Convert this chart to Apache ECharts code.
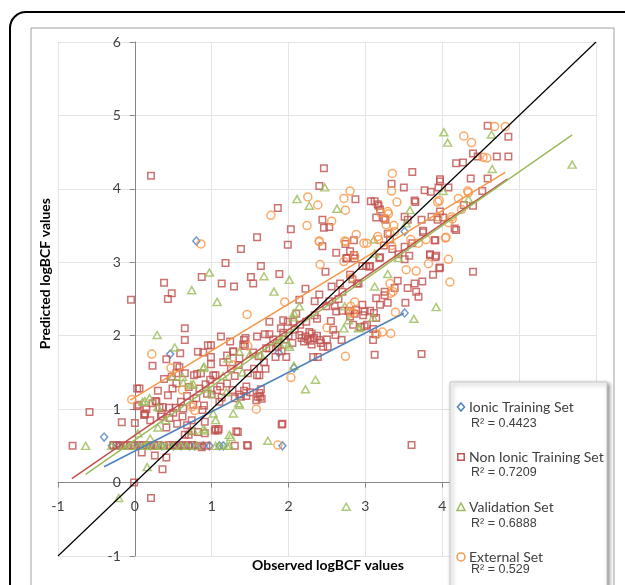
<!DOCTYPE html>
<html>
<head>
<meta charset="utf-8">
<script src="https://cdn.jsdelivr.net/npm/echarts@6/dist/echarts.min.js"></script>
<style>
html,body{margin:0;padding:0;background:#fff;}
#chart{width:625px;height:585px;}
</style>
</head>
<body>
<div id="chart"></div>
<script>
// ---- data ----
const seriesNames = ['Ionic Training Set', 'Non Ionic Training Set', 'Validation Set', 'External Set'];
const r2Labels = ['R\u00b2 = 0.4423', 'R\u00b2 = 0.7209', 'R\u00b2 = 0.6888', 'R\u00b2 = 0.529'];
const seriesColors = ['#4F81BD', '#C0504D', '#9BBB59', '#F79646'];

const ionicData = [
  [-0.40,0.62],[-0.30,0.50],[-0.20,0.50],[0.05,0.50],[0.20,0.50],[0.35,0.50],[0.50,0.50],[0.60,0.50],
  [0.71,0.50],[0.78,0.50],[0.89,0.50],[0.97,0.50],[1.10,0.50],[1.15,0.50],[1.92,0.50],[0.46,1.75],
  [0.80,3.29],[1.87,1.77],[2.07,1.56],[3.51,3.42],[3.51,2.31]
];

const nonIonicData = [
  [0.21,4.18],[2.46,4.28],[2.40,4.04],[1.86,3.74],[2.44,3.58],[2.46,3.47],[2.53,3.48],[2.87,3.86],[3.07,3.83],[3.12,3.83],
  [3.14,3.61],[3.17,3.77],[3.26,3.58],[3.34,4.07],[3.50,4.02],[3.61,4.23],[3.65,3.82],[3.77,3.98],[3.85,3.96],[3.97,4.13],
  [3.97,4.10],[3.95,4.02],[4.08,4.02],[4.18,4.35],[4.27,4.36],[4.40,4.48],[4.46,4.44],[4.37,4.14],[4.59,4.14],[4.59,4.86],
  [4.71,4.44],[4.86,4.44],[4.86,4.71],[4.52,3.97],[4.28,3.78],[4.40,3.77],[3.64,3.84],[3.16,3.79],[3.19,3.72],[3.24,3.60],
  [3.51,3.62],[3.55,3.58],[3.73,3.58],[3.86,3.62],[3.94,3.58],[4.01,3.61],[3.97,3.69],[4.16,3.46],[4.18,3.44],[3.75,3.43],
  [3.91,3.30],[3.29,3.39],[3.51,3.21],
  [2.03,3.45],[1.99,3.24],[1.59,3.34],[1.38,3.18],[1.18,2.99],[1.13,2.71],[1.29,2.67],[0.38,2.72],[0.43,2.50],[0.48,2.58],
  [-0.05,2.49],[0.87,2.80],[1.51,2.80],[1.54,2.71],[1.64,2.95],[1.88,2.84],[2.22,2.64],[2.44,3.22],[2.62,3.13],[2.75,3.05],
  [2.86,3.05],[3.01,2.95],[3.06,2.95],[2.48,2.87],[2.80,2.83],[2.83,2.77],[2.89,2.71],[2.67,2.71],[2.56,2.67],[2.40,2.56],
  [2.14,2.49],[2.34,2.47],[2.53,2.47],[2.49,2.40],[2.60,2.40],[2.62,2.33],[2.70,2.34],[2.78,2.34],[2.86,2.30],[2.99,2.33],
  [3.06,2.34],[3.11,2.31],[3.14,2.24],[2.80,2.26],[2.84,2.15],[2.99,2.13],[3.12,1.74],[3.73,1.75],[3.60,0.51],
  [3.57,3.09],[3.84,3.11],[3.92,3.09],[3.19,3.07],[3.51,3.04],[3.97,2.93],[3.88,2.83],[4.40,2.87],[3.42,2.75],[3.64,2.71],
  [3.74,2.74],[3.66,2.60],[3.55,2.65],[3.69,2.53],[3.38,2.65],[3.25,2.60],[3.25,2.55],[3.29,2.45],[3.19,2.42],[3.52,2.45],
  [3.24,3.23],[3.32,3.31],[3.35,3.18],[3.43,3.11],[3.61,3.26],[3.84,3.10],[3.91,3.07],[3.75,3.41],[3.90,3.30],[3.96,2.92],
  [3.05,2.94],[3.18,3.06],[2.74,3.25],[2.80,3.15],[2.85,3.30],[2.76,3.06],[2.85,3.10],[2.91,2.71],[2.96,2.95],[2.97,2.28],
  [3.02,2.15],[2.94,2.12],[2.96,2.42],[2.88,2.35],[3.14,2.51],
  [2.34,2.28],[2.23,2.19],[2.37,2.23],[1.75,2.19],[1.93,2.21],[1.99,2.19],[2.06,2.19],[1.90,2.10],[1.93,2.04],[2.08,2.08],
  [2.14,2.01],[2.22,1.99],[2.27,2.05],[2.25,1.95],[2.30,2.03],[2.33,1.97],[2.37,2.00],[2.40,1.94],[2.42,1.90],[2.45,1.85],
  [2.30,1.88],[2.28,1.93],[2.20,1.92],[2.17,1.97],[2.58,2.08],[2.61,2.01],[2.69,1.94],[2.51,1.85],[2.38,1.71],[2.32,1.71],
  [1.59,1.99],[1.69,2.02],[1.42,1.94],[1.12,1.99],[1.28,1.78],[1.43,1.86],[1.36,1.69],[1.54,1.77],[1.61,1.72],[1.75,1.83],
  [1.86,1.85],[1.91,1.79],[1.97,1.71],[1.83,1.71],[3.10,2.09],[3.13,2.02],[3.10,1.94],
  [0.65,2.10],[0.65,1.94],[0.95,1.87],[0.99,1.87],[0.82,1.78],[0.89,1.77],[0.59,1.76],[0.41,1.68],[0.23,1.59],[0.55,1.59],
  [0.99,1.71],[-0.59,0.96],[-0.81,0.50],[-0.17,0.82],[0.00,0.81],[0.03,1.28],[0.03,1.04],[0.12,0.92],[0.13,0.94],[0.26,0.37],
  [0.36,0.18],[0.41,0.34],[-0.01,0.00],[0.21,-0.21],[0.09,0.41],
  [0.23,1.08],[0.28,1.10],[0.36,1.03],[0.43,1.19],[0.49,1.28],[0.54,1.35],[0.34,0.90],[0.65,1.49],[0.77,1.46],[0.86,1.49],
  [1.02,1.46],[0.91,0.67],[1.04,0.71],[0.82,0.69],[0.65,0.65],[0.70,0.65],
  [1.62,1.46],[1.58,1.12],[1.60,1.17],[1.62,1.22],[1.64,1.27],[1.30,1.15],[1.36,1.20],[1.42,1.25],[1.45,1.18],[1.92,0.80],
  [1.34,0.69],[1.08,0.71],[1.30,0.50],[1.47,0.50],
  [0.06,1.28],[0.05,1.06],[0.58,1.57],[0.54,1.49],[0.48,1.44],[0.38,1.41],[0.81,1.48],[0.84,1.28],[0.92,1.34],[0.98,1.40],
  [1.05,1.46],[0.99,1.61],[1.07,1.26],[1.11,1.31],[1.13,1.16],[1.27,1.26],[1.15,1.64],[1.20,1.73],[1.24,1.92],[1.28,1.79],
  [1.41,1.88],[1.44,1.97],[1.47,1.49],[1.45,1.31],[1.38,1.17],[1.50,1.23],[1.59,1.46],[1.63,1.17],[1.65,1.14],[1.68,1.64],
  [1.71,1.83],[1.75,2.02],[0.94,1.21],[0.88,0.99],[0.91,0.83],[1.05,0.73],[1.09,0.73],[1.32,0.70],[1.91,0.79],[1.46,0.51],
  [0.63,1.01],[0.53,1.02],[0.45,1.02],[0.32,1.02],[0.27,1.11],[0.35,0.93],[0.41,0.75],[0.55,0.80],[0.68,0.78],[0.74,0.70],
  [0.68,1.18],[0.76,1.06],[0.74,0.85],[0.13,0.93],
  [-0.28,0.51],[-0.24,0.50],[-0.20,0.51],[-0.15,0.50],[-0.10,0.51],[-0.05,0.50],[0.00,0.51],[0.07,0.50],[0.10,0.51],
  [0.15,0.50],[0.20,0.51],[0.25,0.50],[0.30,0.51],[0.38,0.50],[0.45,0.51],[0.50,0.50],[0.55,0.51],[0.60,0.50],
  [0.65,0.51],[0.70,0.50],[0.75,0.51],[0.82,0.50],[0.87,0.48],[0.93,0.50],
  [0.60,1.10],[0.70,1.30],[0.80,1.15],[0.90,1.05],[1.00,1.20],[1.10,1.10],[1.20,1.35],[1.25,1.55],[1.30,1.45],[1.35,1.60],
  [0.50,0.95],[0.45,0.88],[0.62,0.90],[0.30,1.25],[0.20,0.85],[0.15,1.00],[1.55,1.55],[1.70,1.55],[1.80,1.95],[1.85,1.90],
  [1.95,1.95],[2.00,2.00],[2.05,1.90],[2.10,2.30],[2.15,2.15],[2.50,1.95],[2.55,2.20],[2.65,2.50],[2.70,2.60]
];

const validationData = [
  [-0.64,0.50],[-0.21,-0.21],[0.16,0.21],[0.04,0.67],[0.19,1.15],[0.13,1.11],[0.76,0.71],[0.91,0.71],[1.02,0.94],[0.29,2.01],
  [0.52,1.84],[0.62,1.44],[0.76,1.34],[0.89,1.56],[0.97,2.86],[0.74,2.62],[1.07,2.46],[0.90,1.58],[0.94,1.28],[0.99,1.21],
  [1.19,1.23],[1.28,0.94],[1.36,1.06],[1.23,0.65],[1.05,0.85],[0.89,0.73],[1.73,0.57],[1.25,0.62],[1.35,1.08],
  [1.68,2.81],[2.01,2.76],[1.81,2.60],[2.14,2.40],[2.07,2.31],[2.06,2.25],[2.73,2.40],[2.78,2.21],[2.72,2.10],[2.92,2.11],
  [3.10,2.25],[3.12,2.67],[1.88,1.90],[2.01,1.85],[1.64,1.74],[1.36,1.78],[1.21,1.69],[2.07,1.59],[3.12,3.12],[2.35,1.40],
  [2.22,1.27],[2.75,-0.33],
  [4.02,4.77],[4.07,4.63],[4.64,4.74],[4.65,4.27],[4.01,3.97],[4.34,3.86],[3.58,3.71],[3.53,3.53],[3.29,2.84],[3.92,2.39],
  [3.63,2.23],[2.47,4.02],[2.11,3.86],[2.27,3.77],[2.63,3.73],[5.69,4.33],[3.11,3.31],[3.43,3.06],[2.91,2.10],
  [-0.30,0.50],[-0.15,0.50],[-0.05,0.50],[0.05,0.50],[0.12,0.50],[0.15,0.50],[0.25,0.50],[0.32,0.50],[0.35,0.50],
  [0.42,0.50],[0.50,0.50],[0.60,0.50],[0.68,0.50],[0.80,0.50],[1.05,0.50],[1.10,0.50],[1.20,0.50],[1.23,0.50],
  [0.49,1.44],[0.63,1.36],[0.73,1.33],[0.30,1.03],[0.10,1.10],[0.20,0.60],[0.30,0.75],[0.40,0.85],[1.15,1.45],
  [1.40,1.50],[1.50,1.75],[1.90,1.95],[2.00,1.88]
];

const externalData = [
  [-0.04,1.13],[0.22,1.75],[0.47,1.56],[0.62,1.26],[0.74,1.03],[0.78,0.98],[1.46,2.29],[1.58,1.00],[1.47,1.86],[1.86,0.51],
  [2.03,1.43],[1.95,2.46],[1.77,3.64],[2.25,3.89],[2.38,3.78],[2.24,3.50],[2.56,3.56],[2.72,3.87],[2.80,3.97],[2.74,3.71],
  [2.40,3.29],[2.73,3.29],[2.88,3.38],[2.41,2.97],[2.86,3.09],[2.72,3.01],[2.82,2.79],[2.81,2.40],[2.81,2.32],[2.50,2.11],
  [2.74,1.72],[3.02,3.26],[3.17,3.31],[3.32,3.39],[3.35,4.21],[3.34,3.97],[3.41,3.82],[3.30,3.66],[3.37,3.50],[3.34,3.23],
  [3.59,3.31],[3.53,2.90],[3.66,2.88],[3.69,3.26],[3.79,3.31],[3.82,2.98],[3.94,3.82],[3.94,3.62],[4.08,3.04],[4.10,2.73],
  [4.04,3.33],[4.13,3.59],[4.21,3.87],[4.34,3.95],[4.28,4.72],[4.38,4.63],[4.53,4.43],[4.58,4.42],[4.68,4.85],[4.82,4.85],
  [3.15,2.02],[3.22,2.05],[3.33,2.03],[3.39,2.32],[3.33,2.58],[3.36,2.60],[3.32,2.71],[0.86,3.25],[1.28,1.60],[2.84,2.31],
  [2.86,2.46],[2.98,3.26],[2.75,3.28],[2.40,3.28],[3.27,3.51],[3.29,3.69],[3.20,3.67],[3.38,3.42],[4.05,3.34],[4.12,3.62],
  [4.25,3.72],[4.08,3.54],[4.33,3.97],[3.96,3.84],[3.16,3.35]
];

// trendline coefficients (y = slope*x + intercept) and x-extent
const trendSlopes = [0.536, 0.72, 0.73, 0.636];
const trendIntercepts = [0.43, 0.645, 0.58, 1.16];
const trendXStart = [-0.40, -0.82, -0.64, -0.06];
const trendXEnd = [3.50, 4.85, 5.69, 4.82];
const identityRange = [-1, 6];

const axisMin = -1, axisMax = 6, axisStep = 1;
const xLabelMax = 4;

// ---- layout ----
const W = 625, H = 585;
const gridL = 58, gridR = 29, gridT = 42, gridB = 29;
const plotW = W - gridL - gridR, plotH = H - gridT - gridB;
// move axes so they cross at 0 (labels travel with the axis)
const xAxisOffset = -((0 - axisMin) / (axisMax - axisMin)) * plotH;
const yAxisOffset = -((0 - axisMin) / (axisMax - axisMin)) * plotW;

// ---- chart ----
const chart = echarts.init(document.getElementById('chart'), null, {renderer: 'canvas'});
const allData = [ionicData, nonIonicData, validationData, externalData];
const symbols = ['diamond', 'rect', 'triangle', 'circle'];
const symbolSizes = [[7, 8], 6.5, [8, 7], 8];

const series = [];
allData.forEach((d, i) => {
  series.push({
    name: seriesNames[i],
    type: 'scatter',
    data: d,
    symbol: symbols[i],
    symbolSize: symbolSizes[i],
    itemStyle: {color: 'rgba(255,255,255,0)', borderColor: seriesColors[i], borderWidth: 1.5},
    z: 2 + i * 0.1,
    silent: true
  });
});
allData.forEach((d, i) => {
  const xs = [trendXStart[i], trendXEnd[i]];
  series.push({
    name: seriesNames[i] + ' trend',
    type: 'line',
    data: xs.map(x => [x, trendSlopes[i] * x + trendIntercepts[i]]),
    showSymbol: false,
    lineStyle: {color: seriesColors[i], width: 1.5},
    z: 3,
    silent: true
  });
});
series.push({
  name: 'identity',
  type: 'line',
  data: identityRange.map(x => [x, x]),
  showSymbol: false,
  lineStyle: {color: '#000', width: 1.2},
  z: 3.5,
  silent: true
});

const labelFont = 'Lato, "Open Sans", sans-serif';
const graphics = [
  {type: 'rect', shape: {x: 10, y: 12, width: 640, height: 620, r: 16},
   style: {fill: 'none', stroke: '#000', lineWidth: 2}, z: 1, silent: true},
  {type: 'rect', shape: {x: 31, y: 28, width: 583, height: 620},
   style: {fill: 'none', stroke: '#a0a0a0', lineWidth: 1}, z: 1, silent: true},
  {type: 'rect', shape: {x: 450, y: 382, width: 157, height: 240},
   style: {fill: '#fff', stroke: '#c8c8c8', lineWidth: 1, shadowBlur: 4, shadowOffsetX: 2, shadowOffsetY: 2, shadowColor: 'rgba(0,0,0,0.45)'},
   z: 10, silent: true},
  {type: 'text', left: 38, top: 198, rotation: Math.PI / 2,
   style: {text: 'Predicted logBCF values', font: 'bold 14px ' + labelFont, fill: '#000'}, z: 12, silent: true},
  {type: 'text', left: 252, top: 558,
   style: {text: 'Observed logBCF values', font: 'bold 14px ' + labelFont, fill: '#000'}, z: 12, silent: true}
];

// legend (drawn as graphic elements)
const legendY = [407, 457, 507, 557];
const r2Y = [424, 473, 524, 570];
const iconX = 461;
legendY.forEach((cy, i) => {
  const c = seriesColors[i];
  const st = {fill: 'none', stroke: c, lineWidth: 1.5};
  let icon;
  if (i === 0) icon = {type: 'polygon', shape: {points: [[iconX, cy - 4], [iconX + 3.5, cy], [iconX, cy + 4], [iconX - 3.5, cy]]}, style: st};
  else if (i === 1) icon = {type: 'rect', shape: {x: iconX - 3.2, y: cy - 3.2, width: 6.4, height: 6.4}, style: st};
  else if (i === 2) icon = {type: 'polygon', shape: {points: [[iconX, cy - 4], [iconX + 4, cy + 3.5], [iconX - 4, cy + 3.5]]}, style: st};
  else icon = {type: 'circle', shape: {cx: iconX, cy: cy, r: 4}, style: st};
  icon.z = 12; icon.silent = true;
  graphics.push(icon);
  graphics.push({type: 'text', x: 469, y: cy,
    style: {text: seriesNames[i], font: '14px ' + labelFont, fill: '#404040', textVerticalAlign: 'middle', verticalAlign: 'middle'},
    z: 12, silent: true});
  graphics.push({type: 'text', x: 471, y: r2Y[i],
    style: {text: r2Labels[i], font: '12.5px "Liberation Sans", Arial, sans-serif', fill: '#404040', textVerticalAlign: 'middle', verticalAlign: 'middle'},
    z: 12, silent: true});
});

const option = {
  animation: false,
  backgroundColor: '#fff',
  grid: {left: gridL, right: gridR, top: gridT, bottom: gridB, containLabel: false},
  xAxis: {
    type: 'value', min: axisMin, max: axisMax, interval: axisStep,
    position: 'bottom', offset: xAxisOffset,
    axisLine: {onZero: false, lineStyle: {color: '#868686', width: 1}},
    axisTick: {show: true, length: 5, lineStyle: {color: '#868686'}},
    axisLabel: {color: '#404040', fontSize: 14, fontFamily: labelFont, margin: 17,
      formatter: v => (v <= xLabelMax ? String(v) : '')},
    splitLine: {show: true, lineStyle: {color: '#e4e4e4', width: 1}}
  },
  yAxis: {
    type: 'value', min: axisMin, max: axisMax, interval: axisStep,
    position: 'left', offset: yAxisOffset,
    axisLine: {onZero: false, lineStyle: {color: '#868686', width: 1}},
    axisTick: {show: true, length: 5, lineStyle: {color: '#868686'}},
    axisLabel: {color: '#404040', fontSize: 14, fontFamily: labelFont, margin: 14},
    splitLine: {show: true, lineStyle: {color: '#e4e4e4', width: 1}}
  },
  graphic: graphics,
  series: series
};
chart.setOption(option);
</script>
</body>
</html>
